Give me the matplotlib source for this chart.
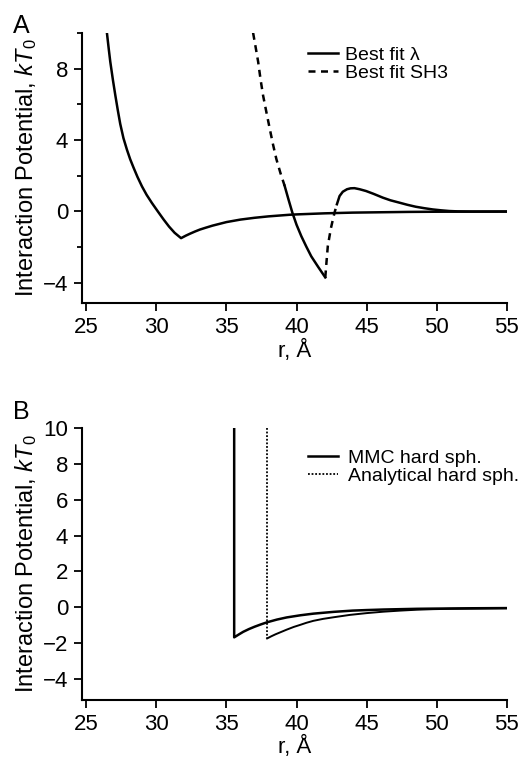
import numpy as np
import matplotlib.pyplot as plt
from matplotlib.ticker import MultipleLocator

plt.rcParams['font.family'] = ['Liberation Sans', 'DejaVu Sans']
plt.rcParams['mathtext.fontset'] = 'custom'
plt.rcParams['mathtext.rm'] = 'Liberation Sans'
plt.rcParams['mathtext.it'] = 'Liberation Sans:italic'

# Panel A: best fit lambda potential
lam_r = [26.47, 26.6, 26.71, 26.9, 27.07, 27.25, 27.42, 27.65, 27.9, 28.13,
         28.37, 28.65, 28.97, 29.3, 29.68, 30.1, 30.51, 30.9, 31.3, 31.76,
         32.1, 32.4, 32.75, 33.1, 33.5, 34.0, 34.5, 35.0, 35.5, 36.0,
         36.5, 37.0, 37.5, 38.0, 38.5, 39.0, 39.5, 40.0, 41.0, 42.0,
         43.0, 44.0, 45.0, 46.0, 47.0, 48.0, 50.0, 52.5, 55.0]
lam_u = [10.0, 9.1, 8.38, 7.35, 6.5, 5.65, 4.9, 4.1, 3.45, 2.92,
         2.45, 1.93, 1.4, 0.93, 0.47, 0.0, -0.45, -0.85, -1.2, -1.5,
         -1.36, -1.25, -1.13, -1.02, -0.92, -0.8, -0.7, -0.6, -0.53, -0.46,
         -0.41, -0.36, -0.32, -0.28, -0.25, -0.22, -0.19, -0.17, -0.14, -0.11,
         -0.09, -0.07, -0.06, -0.05, -0.04, -0.03, -0.02, -0.015, -0.01]

# Panel A: best fit SH3 potential
sh3_r = [36.9, 37.08, 37.26, 37.43, 37.61, 37.85, 38.09, 38.32, 38.56, 38.85,
         39.15, 39.42, 39.7, 40.0, 40.34, 40.7, 41.05, 41.55, 42.05,
         42.14, 42.23, 42.35, 42.45, 42.58, 42.71, 42.88, 43.07, 43.3, 43.6,
         43.85, 44.13, 44.5, 44.96, 45.5, 46.15, 46.7, 47.33, 47.9, 48.5,
         49.1, 49.7, 50.3, 50.9, 51.5, 52.5, 55.0]
sh3_u = [10.0, 9.2, 8.38, 7.4, 6.5, 5.55, 4.62, 3.75, 2.93, 2.15,
         1.43, 0.68, -0.07, -0.75, -1.39, -1.98, -2.52, -3.12, -3.7,
         -2.8, -1.95, -1.4, -0.95, -0.5, -0.07, 0.4, 0.86, 1.1, 1.24,
         1.29, 1.3, 1.24, 1.14, 0.98, 0.77, 0.62, 0.49, 0.37, 0.26,
         0.18, 0.11, 0.06, 0.02, 0.0, -0.01, -0.01]

# Panel B: MMC hard sphere
mmc_r = [35.55, 35.55, 35.9, 36.2, 36.6, 37.0, 37.45, 37.9, 38.6, 39.3,
         40.28, 41.2, 42.65, 44.0, 45.0, 46.2, 47.4, 48.6, 49.75, 52.5, 55.0]
mmc_u = [10.0, -1.67, -1.5, -1.36, -1.21, -1.08, -0.95, -0.83, -0.68, -0.56,
         -0.44, -0.35, -0.25, -0.18, -0.15, -0.12, -0.1, -0.08, -0.07, -0.05, -0.04]

# Panel B: analytical hard sphere
ana_r = [37.9, 37.9, 38.2, 38.5, 38.9, 39.3, 39.8, 40.28, 40.7, 41.2, 41.9,
         42.65, 43.8, 45.0, 46.2, 47.4, 48.6, 49.75, 51.0, 52.5, 55.0]
ana_u = [10.0, -1.73, -1.61, -1.5, -1.37, -1.24, -1.09, -0.97, -0.86, -0.75, -0.64,
         -0.55, -0.42, -0.32, -0.24, -0.18, -0.13, -0.1, -0.08, -0.07, -0.05]

xticks = [25, 30, 35, 40, 45, 50, 55]

fig = plt.figure(figsize=(5.23, 7.64), dpi=100)
axA = fig.add_axes([0.157, 0.603, 0.812, 0.354])
axB = fig.add_axes([0.157, 0.084, 0.812, 0.356])

lw = 1.8
dash = (0, (2.8, 2.2))
# A
axA.plot(lam_r, lam_u, color='black', lw=lw, label='Best fit \u03bb')
sh3_r = np.array(sh3_r)
sh3_u = np.array(sh3_u)
axA.plot(sh3_r[:11], sh3_u[:11], color='black', lw=lw, ls=dash, label='Best fit SH3')
axA.plot(sh3_r[10:19], sh3_u[10:19], color='black', lw=lw)
axA.plot(sh3_r[18:26], sh3_u[18:26], color='black', lw=lw, ls=dash)
axA.plot(sh3_r[25:], sh3_u[25:], color='black', lw=lw)
axA.set_yticks([-4, 0, 4, 8])
axA.yaxis.set_minor_locator(MultipleLocator(2))
axA.legend(loc='upper left', bbox_to_anchor=(0.5, 1.0), frameon=False, fontsize=14,
           handlelength=1.55, handletextpad=0.35, labelspacing=0.0, borderaxespad=0.3)

# B
axB.plot(mmc_r, mmc_u, color='black', lw=lw, label='MMC hard sph.')
axB.plot(ana_r[:2], ana_u[:2], color='black', lw=1.3, ls=(0, (1, 1)), label='Analytical hard sph.')
axB.plot(ana_r[1:], ana_u[1:], color='black', lw=1.4)
axB.set_yticks([-4, -2, 0, 2, 4, 6, 8, 10])
axB.legend(loc='upper left', bbox_to_anchor=(0.5, 0.97), frameon=False, fontsize=14,
           handlelength=1.55, handletextpad=0.5, labelspacing=0.0, borderaxespad=0.3)

for ax in (axA, axB):
    ax.set_xlim(24.7, 55)
    ax.set_ylim(-5.15, 10)
    ax.set_xticks(xticks)
    ax.spines['top'].set_visible(False)
    ax.spines['right'].set_visible(False)
    ax.spines['left'].set_linewidth(1.5)
    ax.spines['bottom'].set_linewidth(1.5)
    ax.tick_params(which='major', length=6, width=1.3, labelsize=16, pad=4)
    ax.tick_params(which='minor', length=3.5, width=1.3)
    ax.set_xlabel('r, \u00c5', fontsize=16, labelpad=1)
    ax.set_ylabel('Interaction Potential, $kT_\\mathit{0}$', fontsize=17, labelpad=3)

fig.text(0.025, 0.957, 'A', fontsize=18, va='baseline')
fig.text(0.025, 0.451, 'B', fontsize=18, va='baseline')

fig.savefig('out.png', dpi=100)
